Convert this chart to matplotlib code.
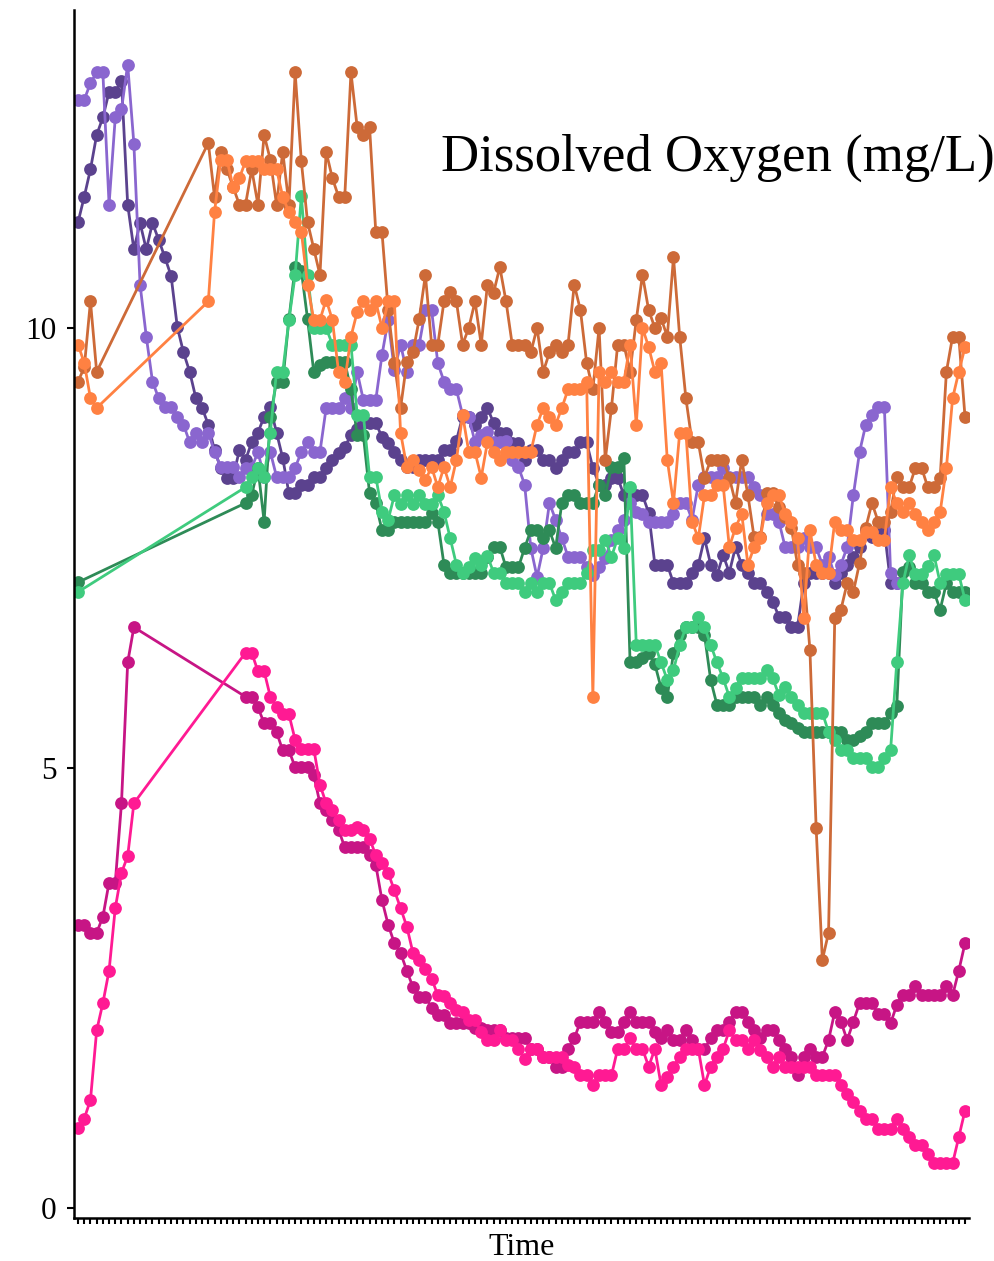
import numpy as np
import matplotlib
matplotlib.use("Agg")
import matplotlib.pyplot as plt

nan = np.nan

# 144 sampling times (categorical axis, labels hidden)
n_times = 144
time_idx = np.arange(n_times)

# Dissolved oxygen (mg/L), one list per site/depth, nan = not sampled
do_purple_dark = [
    11.20, 11.49, 11.80, 12.19, 12.39, 12.68, 12.68, 12.80, 11.40, 10.89,
    11.19, 10.89, 11.19, 11.00, 10.80, 10.59, 10.01, 9.72, 9.50, 9.20,
    9.09, 8.90, 8.61, 8.41, 8.30, 8.30, 8.61, 8.50, 8.70, 8.81,
    8.99, 9.10, 8.81, 8.52, 8.12, 8.12, 8.22, 8.22, 8.31, 8.31,
    8.41, 8.50, 8.58, 8.65, 8.78, 8.85, 8.92, 8.92, 8.92, 8.76,
    8.69, 8.59, 8.50, 8.42, 8.42, 8.50, 8.50, 8.50, 8.50, 8.61,
    8.61, 8.72, 8.99, 8.99, 8.90, 8.99, 9.09, 8.92, 8.81, 8.81,
    8.69, 8.69, 8.50, 8.61, 8.61, 8.50, 8.50, 8.41, 8.50, 8.59,
    8.59, 8.70, 8.70, 8.41, 8.22, 8.22, 8.30, 8.30, 8.10, 8.10,
    8.10, 8.10, 7.90, 7.31, 7.31, 7.31, 7.10, 7.10, 7.10, 7.22,
    7.31, 7.61, 7.31, 7.19, 7.42, 7.22, 7.51, 7.31, 7.22, 7.10,
    7.10, 7.00, 6.89, 6.72, 6.72, 6.60, 6.60, 7.10, 7.22, 7.22,
    7.22, 7.22, 7.10, 7.22, 7.31, 7.40, 7.51, 7.70, 7.62, 7.70,
    7.70, 7.10, 7.10] + [nan] * 11

do_purple_light = [
    12.59, 12.59, 12.78, 12.90, 12.90, 11.40, 12.39, 12.48, 12.99, 12.09,
    10.49, 9.90, 9.39, 9.20, 9.10, 9.10, 8.99, 8.90, 8.70, 8.81,
    8.70, 8.81, 8.59, 8.42, 8.42, 8.42, 8.31, 8.41, 8.41, 8.59,
    8.31, 8.59, 8.31, 8.31, 8.31, 8.41, 8.59, 8.70, 8.59, 8.59,
    9.09, 9.09, 9.09, 9.20, 9.09, 9.50, 9.18, 9.18, 9.18, 9.69,
    10.09, 9.52, 9.81, 9.50, 9.81, 9.81, 10.20, 10.20, 9.60, 9.39,
    9.30, 9.30, 9.01, 8.99, 8.70, 8.78, 8.82, 8.70, 8.70, 8.72,
    8.50, 8.42, 8.22, 7.50, 7.17, 7.50, 8.01, 7.82, 7.61, 7.40,
    7.40, 7.40, 7.28, 7.19, 7.28, 7.39, 7.59, 7.70, 7.82, 8.01,
    7.91, 7.89, 7.80, 7.80, 7.80, 7.80, 7.89, 8.01, 8.01, 7.82,
    8.22, 8.31, 8.31, 8.31, 8.41, 8.31, 8.31, 8.31, 8.31, 8.19,
    8.10, 7.89, 7.89, 7.80, 7.51, 7.51, 7.51, 7.61, 7.51, 7.51,
    7.31, 7.40, 7.19, 7.31, 7.51, 8.10, 8.59, 8.90, 9.01, 9.10,
    9.10, 7.22, 7.10] + [nan] * 11

do_green_dark = [7.11] + [nan] * 26 + [
    8.01, 8.10, 8.41,
    7.80, 8.99, 9.39, 9.39, 10.10, 10.69, 10.65, 10.10, 9.50, 9.58,
    9.61, 9.61, 9.61, 9.61, 9.30, 8.78, 8.78, 8.12, 8.01, 7.70,
    7.70, 7.80, 7.80, 7.80, 7.80, 7.80, 7.80, 7.90, 7.80, 7.31,
    7.22, 7.22, 7.22, 7.22, 7.22, 7.22, 7.40, 7.51, 7.51, 7.28,
    7.28, 7.28, 7.50, 7.70, 7.70, 7.61, 7.70, 7.50, 8.01, 8.10,
    8.10, 8.01, 8.01, 8.01, 8.22, 8.10, 8.42, 8.42, 8.52, 6.20,
    6.20, 6.25, 6.31, 6.18, 5.91, 5.81, 6.31, 6.51, 6.60, 6.60,
    6.60, 6.51, 6.00, 5.72, 5.72, 5.72, 5.81, 5.81, 5.81, 5.81,
    5.72, 5.81, 5.72, 5.63, 5.55, 5.51, 5.45, 5.41, 5.41, 5.41,
    5.41, 5.41, 5.41, 5.41, 5.32, 5.32, 5.36, 5.41, 5.51, 5.51,
    5.51, 5.63, 5.70, 7.23, 7.28, 7.10, 7.10, 7.00, 7.00, 6.80,
    7.10, 7.00, 7.00, 7.00]

do_green_light = [7.00] + [nan] * 26 + [
    8.19, 8.31, 8.41,
    8.31, 8.81, 9.50, 9.50, 10.09, 10.60, 11.50, 10.60, 10.00, 10.00,
    10.00, 9.81, 9.81, 9.81, 9.81, 9.01, 9.01, 8.31, 8.31, 7.91,
    7.82, 8.10, 8.00, 8.10, 8.00, 8.10, 8.00, 8.00, 8.10, 7.91,
    7.61, 7.31, 7.22, 7.28, 7.39, 7.31, 7.41, 7.22, 7.22, 7.10,
    7.10, 7.10, 7.00, 7.10, 7.00, 7.10, 7.10, 6.91, 7.00, 7.10,
    7.10, 7.10, 7.22, 7.48, 7.48, 7.59, 7.40, 7.61, 7.50, 8.19,
    6.40, 6.40, 6.40, 6.40, 6.20, 6.00, 6.11, 6.40, 6.60, 6.60,
    6.72, 6.60, 6.40, 6.20, 6.02, 5.81, 5.91, 6.02, 6.02, 6.02,
    6.02, 6.11, 6.02, 5.83, 5.92, 5.81, 5.72, 5.63, 5.63, 5.63,
    5.63, 5.41, 5.32, 5.20, 5.20, 5.11, 5.11, 5.11, 5.01, 5.01,
    5.11, 5.20, 6.20, 7.10, 7.42, 7.20, 7.20, 7.30, 7.42, 7.10,
    7.20, 7.20, 7.20, 6.91]

do_orange_dark = [9.39, 9.55, 10.30, 9.50] + [nan] * 17 + [
    12.10, 11.49, 12.00, 11.80, 11.60, 11.40, 11.40, 11.80, 11.40,
    12.19, 11.91, 11.40, 12.00, 11.40, 12.90, 11.89, 11.20, 10.90, 10.60,
    12.00, 11.70, 11.49, 11.49, 12.90, 12.28, 12.19, 12.28, 11.09, 11.09,
    10.20, 9.60, 9.09, 9.61, 9.72, 10.10, 10.60, 9.81, 9.81, 10.30,
    10.41, 10.30, 9.81, 10.00, 10.30, 9.81, 10.49, 10.40, 10.69, 10.30,
    9.81, 9.81, 9.81, 9.72, 10.00, 9.50, 9.72, 9.81, 9.72, 9.81,
    10.49, 10.20, 9.60, 9.30, 10.00, 8.50, 9.09, 9.81, 9.81, 9.50,
    10.09, 10.60, 10.20, 10.00, 10.11, 9.90, 10.80, 9.90, 9.20, 8.70,
    8.70, 8.30, 8.50, 8.50, 8.50, 8.30, 8.01, 8.50, 8.10, 7.62,
    7.62, 8.12, 8.12, 7.96, 7.85, 7.73, 7.31, 7.22, 6.34, 4.32,
    2.82, 3.13, 6.70, 6.80, 7.10, 7.00, 7.33, 7.73, 8.01, 7.80,
    7.80, 7.91, 8.31, 8.19, 8.19, 8.41, 8.41, 8.19, 8.19, 8.30,
    9.50, 9.90, 9.90, 8.99]

do_orange_light = [9.81, 9.60, 9.20, 9.09] + [nan] * 17 + [
    10.30, 11.31, 11.91, 11.91, 11.60, 11.70, 11.89, 11.89, 11.89,
    11.80, 11.80, 11.80, 11.49, 11.31, 11.20, 11.09, 10.49, 10.09, 10.09,
    10.32, 10.09, 9.50, 9.39, 9.90, 10.18, 10.30, 10.20, 10.30, 10.00,
    10.30, 10.30, 8.81, 8.42, 8.50, 8.39, 8.27, 8.42, 8.19, 8.42,
    8.19, 8.50, 9.01, 8.59, 8.59, 8.30, 8.70, 8.59, 8.50, 8.59,
    8.59, 8.59, 8.59, 8.59, 8.90, 9.09, 8.99, 8.90, 9.09, 9.30,
    9.30, 9.30, 9.39, 5.81, 9.50, 9.39, 9.50, 9.39, 9.39, 9.81,
    8.90, 10.00, 9.78, 9.50, 9.60, 8.50, 8.01, 8.81, 8.81, 7.80,
    7.61, 8.10, 8.10, 8.22, 8.22, 7.51, 7.73, 7.89, 7.31, 7.51,
    7.61, 8.01, 8.10, 8.10, 7.89, 7.80, 7.61, 6.70, 7.70, 7.31,
    7.22, 7.22, 7.80, 7.70, 7.70, 7.59, 7.59, 7.68, 7.68, 7.59,
    7.59, 8.19, 8.01, 7.91, 8.01, 7.89, 7.80, 7.70, 7.80, 7.91,
    8.41, 9.20, 9.50, 9.78]

do_pink_dark = [3.22, 3.22, 3.13, 3.13, 3.31, 3.70, 3.70, 4.60, 6.20, 6.60] + [nan] * 17 + [
    5.81, 5.81, 5.69,
    5.51, 5.51, 5.41, 5.20, 5.20, 5.01, 5.01, 5.01, 4.92, 4.60,
    4.52, 4.41, 4.30, 4.10, 4.10, 4.10, 4.10, 4.01, 3.90, 3.50,
    3.22, 3.01, 2.90, 2.70, 2.51, 2.40, 2.40, 2.28, 2.19, 2.19,
    2.10, 2.10, 2.10, 2.10, 2.05, 2.05, 2.02, 2.02, 2.02, 1.93,
    1.93, 1.93, 1.93, 1.81, 1.81, 1.72, 1.72, 1.61, 1.61, 1.81,
    1.93, 2.12, 2.12, 2.12, 2.23, 2.12, 2.00, 2.00, 2.12, 2.23,
    2.12, 2.12, 2.12, 2.00, 1.93, 2.02, 1.91, 1.91, 2.02, 1.91,
    1.81, 1.81, 1.93, 2.02, 2.02, 2.12, 2.23, 2.23, 2.12, 2.02,
    1.93, 2.02, 2.02, 1.91, 1.81, 1.72, 1.51, 1.72, 1.81, 1.72,
    1.72, 1.91, 2.23, 2.12, 1.91, 2.12, 2.33, 2.33, 2.33, 2.21,
    2.21, 2.10, 2.31, 2.42, 2.42, 2.52, 2.42, 2.42, 2.42, 2.42,
    2.52, 2.42, 2.70, 3.01]

do_pink_light = [0.91, 1.02, 1.23, 2.02, 2.33, 2.70, 3.41, 3.81, 4.00, 4.60] + [nan] * 17 + [
    6.31, 6.31, 6.10,
    6.10, 5.81, 5.69, 5.61, 5.61, 5.32, 5.22, 5.22, 5.22, 4.81,
    4.60, 4.52, 4.41, 4.30, 4.30, 4.33, 4.30, 4.20, 4.01, 3.92,
    3.81, 3.61, 3.41, 3.20, 2.90, 2.82, 2.72, 2.61, 2.42, 2.41,
    2.33, 2.25, 2.23, 2.14, 2.14, 2.00, 1.91, 1.91, 2.02, 1.91,
    1.91, 1.81, 1.70, 1.81, 1.81, 1.72, 1.72, 1.72, 1.72, 1.63,
    1.61, 1.51, 1.51, 1.40, 1.51, 1.51, 1.51, 1.81, 1.81, 1.93,
    1.81, 1.81, 1.61, 1.81, 1.40, 1.49, 1.61, 1.72, 1.81, 1.81,
    1.81, 1.40, 1.61, 1.72, 1.81, 2.02, 1.91, 1.91, 1.81, 1.91,
    1.80, 1.72, 1.61, 1.72, 1.61, 1.61, 1.61, 1.61, 1.61, 1.51,
    1.51, 1.51, 1.51, 1.40, 1.30, 1.21, 1.11, 1.02, 1.02, 0.90,
    0.90, 0.90, 1.02, 0.90, 0.81, 0.72, 0.72, 0.62, 0.51, 0.51,
    0.51, 0.51, 0.81, 1.11]

series = [
    (do_purple_dark, "#5B428E"),
    (do_purple_light, "#8A66CF"),
    (do_green_dark, "#2E8B57"),
    (do_green_light, "#3FCB7E"),
    (do_orange_dark, "#CD6A38"),
    (do_orange_light, "#FF8142"),
    (do_pink_dark, "#C71585"),
    (do_pink_light, "#FF1A93"),
]

fig = plt.figure(figsize=(9.95, 12.61), dpi=100)
ax = fig.add_axes([0.0739, 0.0341, 0.9, 0.958])

for vals, col in series:
    y = np.array(vals, dtype=float)
    ok = ~np.isnan(y)
    # geom_line style: missing times are simply skipped, not gaps
    ax.plot(time_idx[ok], y[ok], color=col, lw=2.0, marker="o", ms=9.2,
            mec=col, mew=0)

ax.set_xlim(-0.73, n_times - 0.35)
ax.set_ylim(-0.11, 13.61)

ax.set_xticks(time_idx)
ax.set_xticklabels([""] * n_times)
ax.set_yticks([0, 5, 10])
ax.set_yticklabels(["0", "5", "10"], fontsize=22.5, family="Liberation Serif")
ax.tick_params(axis="x", length=4.5, width=1.5, color="black")
ax.tick_params(axis="y", length=5, width=1.5, color="black", pad=7)
ax.set_xlabel("Time", fontsize=23, family="Liberation Serif", labelpad=3)

for side in ["top", "right"]:
    ax.spines[side].set_visible(False)
for side in ["left", "bottom"]:
    ax.spines[side].set_linewidth(1.8)

fig.text(0.9995, 0.875, "Dissolved Oxygen (mg/L)", ha="right", va="center",
         fontsize=38, family="Liberation Serif")

fig.savefig("out.png", dpi=100)
